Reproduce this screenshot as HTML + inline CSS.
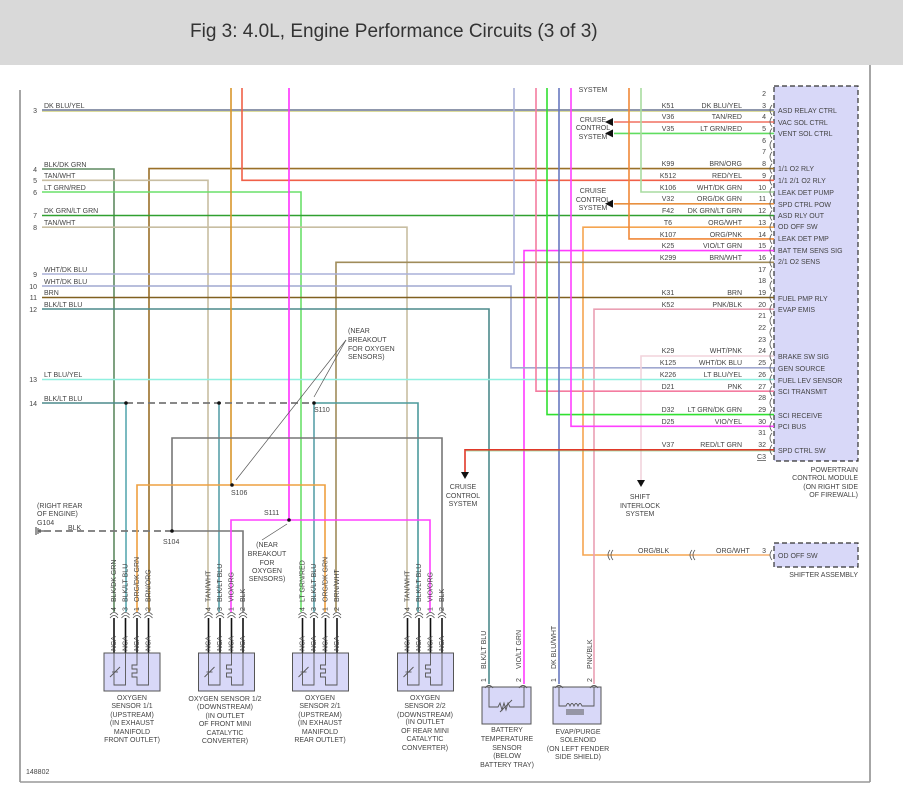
<!DOCTYPE html>
<html><head><meta charset="utf-8"><style>
html,body{margin:0;padding:0;background:#fff;}
svg{display:block;font-family:"Liberation Sans",sans-serif;}
text{font-size:7px;fill:#444;}
</style></head><body>
<svg width="903" height="792" viewBox="0 0 903 792" xmlns="http://www.w3.org/2000/svg">
<rect x="0" y="0" width="903" height="65" fill="#d9d9d9"/>
<text x="190" y="37" style="font-size:19px;fill:#333">Fig 3: 4.0L, Engine Performance Circuits (3 of 3)</text>
<line x1="20" y1="90" x2="20" y2="782" stroke="#888" stroke-width="1.5"/>
<line x1="870" y1="65" x2="870" y2="782" stroke="#888" stroke-width="1.5"/>
<line x1="20" y1="782" x2="870" y2="782" stroke="#999" stroke-width="1.5"/>

<rect x="774" y="86" width="84" height="375" fill="#d8d8f8" stroke="#333" stroke-dasharray="5,3" stroke-width="1.2"/>

<g fill="none" stroke-width="1.6">
<polyline points="42,110 774,110" stroke="#6a7590"/>
<polyline points="42,111.3 774,111.3" stroke="#c8c860" stroke-width="0.6"/>
<polyline points="614,122 774,122" stroke="#f07060"/>
<polyline points="614,133.4 774,133.4" stroke="#60dd60"/>
<polyline points="42,169 114,169 114,612" stroke="#5f8a60"/>
<polyline points="774,168.6 149,168.6 149,612" stroke="#9a7028"/>
<polyline points="42,180.3 208,180.3 208,612" stroke="#c8bea2"/>
<polyline points="242,88 242,180.3 774,180.3" stroke="#f06048"/>
<polyline points="42,192 301,192 301,612" stroke="#6ae06a"/>
<polyline points="641,88 641,192 774,192" stroke="#a8dca0"/>
<polyline points="614,203.8 774,203.8" stroke="#e89040"/>
<polyline points="42,215.5 774,215.5" stroke="#30a030"/>
<polyline points="42,227.2 407,227.2 407,612" stroke="#c8bea2"/>
<polyline points="774,227.2 583,227.2 583,555 690,555" stroke="#f5a550"/>
<polyline points="690,555 770,555" stroke="#f5b070"/>
<polyline points="629,88 629,238.9 774,238.9" stroke="#f08838"/>
<polyline points="774,250.6 524,250.6 524,684" stroke="#ff3cff"/>
<polyline points="774,262.3 336,262.3 336,612" stroke="#a08c5a"/>
<polyline points="42,274 514,274 514,88" stroke="#aab0d8"/>
<polyline points="42,286 511,286 511,367.8 774,367.8" stroke="#a0a8d0"/>
<polyline points="42,297.5 774,297.5" stroke="#806020"/>
<polyline points="42,309 489,309 489,684" stroke="#4c8a8c"/>
<polyline points="774,309.2 594,309.2 594,684" stroke="#eaa0b4"/>
<polyline points="774,356 641,356 641,480" stroke="#f2d4dc"/>
<polyline points="42,379.5 774,379.5" stroke="#90f0e0"/>
<polyline points="536,88 536,391.2 774,391.2" stroke="#f47ca0"/>
<polyline points="547,88 547,414.6 774,414.6" stroke="#30e030"/>
<polyline points="571,88 571,426.3 774,426.3" stroke="#ff40ff"/>
<polyline points="559,88 559,684" stroke="#6878c0"/>
<polyline points="774,449.8 465,449.8 465,472" stroke="#e03828"/>
<polyline points="774,451 466,451" stroke="#60c060" stroke-width="0.6"/>
<polyline points="231,88 231,485" stroke="#d8962c"/>
<polyline points="289,88 289,520" stroke="#ff30ff"/>
<polyline points="42,403 126,403" stroke="#4c8a8c"/>
<polyline points="126,403 314,403" stroke="#777" stroke-dasharray="7,4" stroke-width="1.8"/>
<polyline points="314,403 418,403 418,612" stroke="#4c9a9c"/>
<polyline points="126,403 126,612" stroke="#5aa8b0"/>
<polyline points="219,403 219,612" stroke="#5aa0a8"/>
<polyline points="314,403 314,612" stroke="#5aa0a8"/>
<polyline points="172,531 172,438 442,438 442,612" stroke="#777"/>
<polyline points="172,531 243,531 243,612" stroke="#777"/>
<polyline points="44,531 172,531" stroke="#777" stroke-dasharray="7,4" stroke-width="1.8"/>
<polyline points="137,612 137,485 325,485 325,612" stroke="#eea040"/>
<polyline points="231,612 231,520 430,520 430,612" stroke="#ff40ff"/>
</g>

<g fill="#111">
<circle cx="126" cy="403" r="1.8"/><circle cx="219" cy="403" r="1.8"/><circle cx="314" cy="403" r="1.8"/>
<circle cx="232" cy="485" r="1.8"/><circle cx="289" cy="520" r="1.8"/><circle cx="172" cy="531" r="1.8"/>
</g>
<text x="314" y="412">S110</text>
<text x="231" y="495">S106</text>
<text x="264" y="515">S111</text>
<text x="163" y="544">S104</text>

<g stroke="#555" stroke-width="0.7" fill="none">
<line x1="346" y1="340" x2="236" y2="480"/><line x1="346" y1="340" x2="314" y2="397"/>
<line x1="262" y1="540" x2="287" y2="524"/>
</g>
<g>
<text x="348" y="333">(NEAR</text><text x="348" y="342">BREAKOUT</text><text x="348" y="351">FOR OXYGEN</text><text x="348" y="359">SENSORS)</text>
</g>
<g text-anchor="middle">
<text x="267" y="547">(NEAR</text><text x="267" y="556">BREAKOUT</text><text x="267" y="565">FOR</text><text x="267" y="573">OXYGEN</text><text x="267" y="581">SENSORS)</text>
</g>
<text x="37" y="508">(RIGHT REAR</text><text x="37" y="516">OF ENGINE)</text><text x="37" y="525">G104</text>
<text x="68" y="530">BLK</text>
<g stroke="#333" stroke-width="1"><line x1="38" y1="531" x2="44" y2="531"/><line x1="36" y1="527" x2="36" y2="535"/><line x1="38" y1="528" x2="38" y2="534"/><line x1="40" y1="529" x2="40" y2="533"/></g>
<text x="26" y="774">148802</text>

<g text-anchor="end">
<text x="37" y="113">3</text><text x="37" y="172">4</text><text x="37" y="183">5</text><text x="37" y="195">6</text>
<text x="37" y="218">7</text><text x="37" y="230">8</text><text x="37" y="277">9</text><text x="37" y="289">10</text>
<text x="37" y="300">11</text><text x="37" y="312">12</text><text x="37" y="382">13</text><text x="37" y="406">14</text>
</g>
<g>
<text x="44" y="108">DK BLU/YEL</text><text x="44" y="167">BLK/DK GRN</text><text x="44" y="178">TAN/WHT</text>
<text x="44" y="190">LT GRN/RED</text><text x="44" y="213">DK GRN/LT GRN</text><text x="44" y="225">TAN/WHT</text>
<text x="44" y="272">WHT/DK BLU</text><text x="44" y="284">WHT/DK BLU</text><text x="44" y="295">BRN</text>
<text x="44" y="307">BLK/LT BLU</text><text x="44" y="377">LT BLU/YEL</text><text x="44" y="401">BLK/LT BLU</text>
</g>

<g text-anchor="middle">
<text x="668" y="108">K51</text><text x="668" y="119">V36</text><text x="668" y="131">V35</text>
<text x="668" y="166">K99</text><text x="668" y="178">K512</text><text x="668" y="190">K106</text><text x="668" y="201">V32</text>
<text x="668" y="213">F42</text><text x="668" y="225">T6</text><text x="668" y="237">K107</text><text x="668" y="248">K25</text>
<text x="668" y="260">K299</text><text x="668" y="295">K31</text><text x="668" y="307">K52</text><text x="668" y="353">K29</text>
<text x="668" y="365">K125</text><text x="668" y="377">K226</text><text x="668" y="389">D21</text><text x="668" y="412">D32</text>
<text x="668" y="424">D25</text><text x="668" y="447">V37</text>
</g>
<g text-anchor="end">
<text x="742" y="108">DK BLU/YEL</text><text x="742" y="119">TAN/RED</text><text x="742" y="131">LT GRN/RED</text>
<text x="742" y="166">BRN/ORG</text><text x="742" y="178">RED/YEL</text><text x="742" y="190">WHT/DK GRN</text><text x="742" y="201">ORG/DK GRN</text>
<text x="742" y="213">DK GRN/LT GRN</text><text x="742" y="225">ORG/WHT</text><text x="742" y="237">ORG/PNK</text><text x="742" y="248">VIO/LT GRN</text>
<text x="742" y="260">BRN/WHT</text><text x="742" y="295">BRN</text><text x="742" y="307">PNK/BLK</text><text x="742" y="353">WHT/PNK</text>
<text x="742" y="365">WHT/DK BLU</text><text x="742" y="377">LT BLU/YEL</text><text x="742" y="389">PNK</text><text x="742" y="412">LT GRN/DK GRN</text>
<text x="742" y="424">VIO/YEL</text><text x="742" y="447">RED/LT GRN</text>
<text x="766" y="96">2</text><text x="766" y="108">3</text><text x="766" y="119">4</text><text x="766" y="131">5</text><text x="766" y="143">6</text>
<text x="766" y="154">7</text><text x="766" y="166">8</text><text x="766" y="178">9</text><text x="766" y="190">10</text><text x="766" y="201">11</text>
<text x="766" y="213">12</text><text x="766" y="225">13</text><text x="766" y="237">14</text><text x="766" y="248">15</text><text x="766" y="260">16</text>
<text x="766" y="272">17</text><text x="766" y="283">18</text><text x="766" y="295">19</text><text x="766" y="307">20</text><text x="766" y="318">21</text>
<text x="766" y="330">22</text><text x="766" y="342">23</text><text x="766" y="353">24</text><text x="766" y="365">25</text><text x="766" y="377">26</text>
<text x="766" y="389">27</text><text x="766" y="400">28</text><text x="766" y="412">29</text><text x="766" y="424">30</text><text x="766" y="435">31</text>
<text x="766" y="447">32</text><text x="766" y="459" text-decoration="underline">C3</text>
<text x="766" y="553">3</text>
</g>
<g stroke="#555" stroke-width="0.8" fill="none">
<path d="M772,105 q-4,5 0,10 M772,116.7 q-4,5 0,10 M772,128.4 q-4,5 0,10 M772,140.2 q-4,5 0,10 M772,151.9 q-4,5 0,10 M772,163.6 q-4,5 0,10 M772,175.3 q-4,5 0,10 M772,187 q-4,5 0,10 M772,198.8 q-4,5 0,10 M772,210.5 q-4,5 0,10 M772,222.2 q-4,5 0,10 M772,233.9 q-4,5 0,10 M772,245.6 q-4,5 0,10 M772,257.3 q-4,5 0,10 M772,269 q-4,5 0,10 M772,280.8 q-4,5 0,10 M772,292.5 q-4,5 0,10 M772,304.2 q-4,5 0,10 M772,315.9 q-4,5 0,10 M772,327.6 q-4,5 0,10 M772,339.3 q-4,5 0,10 M772,351 q-4,5 0,10 M772,362.8 q-4,5 0,10 M772,374.5 q-4,5 0,10 M772,386.2 q-4,5 0,10 M772,397.9 q-4,5 0,10 M772,409.6 q-4,5 0,10 M772,421.3 q-4,5 0,10 M772,433 q-4,5 0,10 M772,444.8 q-4,5 0,10 M772,550 q-4,5 0,10"/>
<path d="M610,550 q-4,5 0,10 M613,550 q-4,5 0,10 M692,550 q-4,5 0,10 M695,550 q-4,5 0,10"/>
</g>
<g>
<text x="778" y="113">ASD RELAY CTRL</text><text x="778" y="125">VAC SOL CTRL</text><text x="778" y="136">VENT SOL CTRL</text>
<text x="778" y="171">1/1 O2 RLY</text><text x="778" y="183">1/1 2/1 O2 RLY</text><text x="778" y="195">LEAK DET PUMP</text>
<text x="778" y="207">SPD CTRL POW</text><text x="778" y="218">ASD RLY OUT</text><text x="778" y="229">OD OFF SW</text>
<text x="778" y="241">LEAK DET PMP</text><text x="778" y="253">BAT TEM SENS SIG</text><text x="778" y="264">2/1 O2 SENS</text>
<text x="778" y="301">FUEL PMP RLY</text><text x="778" y="312">EVAP EMIS</text><text x="778" y="359">BRAKE SW SIG</text>
<text x="778" y="371">GEN SOURCE</text><text x="778" y="383">FUEL LEV SENSOR</text><text x="778" y="394">SCI TRANSMIT</text>
<text x="778" y="418">SCI RECEIVE</text><text x="778" y="429">PCI BUS</text><text x="778" y="453">SPD CTRL SW</text>
</g>
<g text-anchor="end">
<text x="858" y="472">POWERTRAIN</text><text x="858" y="480">CONTROL MODULE</text><text x="858" y="489">(ON RIGHT SIDE</text><text x="858" y="497">OF FIREWALL)</text>
<text x="858" y="577">SHIFTER ASSEMBLY</text>
</g>
<rect x="774" y="543" width="84" height="24" fill="#d8d8f8" stroke="#333" stroke-dasharray="5,3" stroke-width="1.2"/>
<text x="778" y="558">OD OFF SW</text>
<text x="638" y="553">ORG/BLK</text><text x="716" y="553">ORG/WHT</text>

<g fill="#111">
<path d="M605,122 l8,-4 v8 z"/><path d="M605,133.4 l8,-4 v8 z"/><path d="M605,203.8 l8,-4 v8 z"/>
<path d="M461,472 h8 l-4,7 z"/><path d="M637,480 h8 l-4,7 z"/>
</g>
<g text-anchor="middle">
<text x="593" y="92">SYSTEM</text>
<text x="593" y="122">CRUISE</text><text x="593" y="130">CONTROL</text><text x="593" y="139">SYSTEM</text>
<text x="593" y="193">CRUISE</text><text x="593" y="202">CONTROL</text><text x="593" y="210">SYSTEM</text>
<text x="463" y="489">CRUISE</text><text x="463" y="498">CONTROL</text><text x="463" y="506">SYSTEM</text>
<text x="640" y="499">SHIFT</text><text x="640" y="508">INTERLOCK</text><text x="640" y="516">SYSTEM</text>
</g>

<defs>
<g id="sens">
<g stroke="#111" stroke-width="1.6"><line x1="10" y1="3" x2="10" y2="38"/><line x1="21.5" y1="3" x2="21.5" y2="38"/><line x1="33" y1="3" x2="33" y2="38"/><line x1="44.5" y1="3" x2="44.5" y2="38"/></g>
<g stroke="#555" stroke-width="0.8" fill="none">
<path d="M6,3 q4,-5 8,0 M6,0 q4,-5 8,0 M17.5,3 q4,-5 8,0 M17.5,0 q4,-5 8,0 M29,3 q4,-5 8,0 M29,0 q4,-5 8,0 M40.5,3 q4,-5 8,0 M40.5,0 q4,-5 8,0"/>
</g>
<rect x="0" y="38" width="56" height="38" fill="#d8d8f8" stroke="#555" stroke-width="1"/>
<g stroke="#555" stroke-width="0.9" fill="none">
<polyline points="10,38 10,70 21.5,70 21.5,38"/>
<line x1="6" y1="62" x2="16" y2="52"/><line x1="8" y1="57" x2="14" y2="57"/>
<polyline points="33,38 33,50 28,50 28,54 33,54 33,58 28,58 28,62 33,62 33,70 44.5,70 44.5,38"/>
</g>
<g font-size="6.5">
<text transform="translate(12,36) rotate(-90)">NCA</text><text transform="translate(23.5,36) rotate(-90)">NCA</text>
<text transform="translate(35,36) rotate(-90)">NCA</text><text transform="translate(46.5,36) rotate(-90)">NCA</text>
<text transform="translate(12,-4) rotate(-90)">4</text><text transform="translate(23.5,-4) rotate(-90)">3</text>
<text transform="translate(35,-4) rotate(-90)">1</text><text transform="translate(46.5,-4) rotate(-90)">2</text>
</g>
</g>
</defs>
<use href="#sens" transform="translate(104,615)"/>
<use href="#sens" transform="translate(198.5,615)"/>
<use href="#sens" transform="translate(292.5,615)"/>
<use href="#sens" transform="translate(397.5,615)"/>
<g font-size="6.5">
<text transform="translate(116,602) rotate(-90)">BLK/DK GRN</text><text transform="translate(127.5,602) rotate(-90)">BLK/LT BLU</text>
<text transform="translate(139,602) rotate(-90)">ORG/DK GRN</text><text transform="translate(150.5,602) rotate(-90)">BRN/ORG</text>
<text transform="translate(210.5,602) rotate(-90)">TAN/WHT</text><text transform="translate(222,602) rotate(-90)">BLK/LT BLU</text>
<text transform="translate(233.5,602) rotate(-90)">VIO/ORG</text><text transform="translate(245,602) rotate(-90)">BLK</text>
<text transform="translate(304.5,602) rotate(-90)">LT GRN/RED</text><text transform="translate(316,602) rotate(-90)">BLK/LT BLU</text>
<text transform="translate(327.5,602) rotate(-90)">ORG/DK GRN</text><text transform="translate(339,602) rotate(-90)">BRN/WHT</text>
<text transform="translate(409.5,602) rotate(-90)">TAN/WHT</text><text transform="translate(421,602) rotate(-90)">BLK/LT BLU</text>
<text transform="translate(432.5,602) rotate(-90)">VIO/ORG</text><text transform="translate(444,602) rotate(-90)">BLK</text>
<text transform="translate(486,669) rotate(-90)">BLK/LT BLU</text><text transform="translate(521,669) rotate(-90)">VIO/LT GRN</text>
<text transform="translate(556,669) rotate(-90)">DK BLU/WHT</text><text transform="translate(592,669) rotate(-90)">PNK/BLK</text>
<text transform="translate(486,682) rotate(-90)">1</text><text transform="translate(521,682) rotate(-90)">2</text>
<text transform="translate(556,682) rotate(-90)">1</text><text transform="translate(592,682) rotate(-90)">2</text>
</g>
<g text-anchor="middle">
<text x="132" y="700">OXYGEN</text><text x="132" y="708">SENSOR 1/1</text><text x="132" y="717">(UPSTREAM)</text><text x="132" y="725">(IN EXHAUST</text><text x="132" y="734">MANIFOLD</text><text x="132" y="742">FRONT OUTLET)</text>
<text x="225" y="701">OXYGEN SENSOR 1/2</text><text x="225" y="709">(DOWNSTREAM)</text><text x="225" y="718">(IN OUTLET</text><text x="225" y="726">OF FRONT MINI</text><text x="225" y="735">CATALYTIC</text><text x="225" y="743">CONVERTER)</text>
<text x="320" y="700">OXYGEN</text><text x="320" y="708">SENSOR 2/1</text><text x="320" y="717">(UPSTREAM)</text><text x="320" y="725">(IN EXHAUST</text><text x="320" y="734">MANIFOLD</text><text x="320" y="742">REAR OUTLET)</text>
<text x="425" y="700">OXYGEN</text><text x="425" y="708">SENSOR 2/2</text><text x="425" y="717">(DOWNSTREAM)</text><text x="425" y="724">(IN OUTLET</text><text x="425" y="733">OF REAR MINI</text><text x="425" y="741">CATALYTIC</text><text x="425" y="750">CONVERTER)</text>
<text x="507" y="732">BATTERY</text><text x="507" y="741">TEMPERATURE</text><text x="507" y="750">SENSOR</text><text x="507" y="758">(BELOW</text><text x="507" y="767">BATTERY TRAY)</text>
<text x="578" y="734">EVAP/PURGE</text><text x="578" y="742">SOLENOID</text><text x="578" y="751">(ON LEFT FENDER</text><text x="578" y="759">SIDE SHIELD)</text>
</g>
<rect x="482" y="687" width="49" height="37" fill="#d8d8f8" stroke="#555"/>
<rect x="553" y="687" width="48" height="37" fill="#d8d8f8" stroke="#555"/>
<g stroke="#555" stroke-width="0.9" fill="none">
<path d="M485,688 q4,-5 8,0 M519,688 q4,-5 8,0 M555,688 q4,-5 8,0 M590,688 q4,-5 8,0"/>
<polyline points="489,687 489,707 498,707 500,703 502,710 504,703 506,710 508,703 510,707 524,707 524,687"/>
<line x1="500" y1="712" x2="512" y2="700"/>
<path d="M559,687 V706 H566 q2,-5 4,0 q2,-5 4,0 q2,-5 4,0 q2,-5 4,0 H594 V687"/>
<line x1="566" y1="710" x2="584" y2="710"/><line x1="566" y1="712" x2="584" y2="712"/><line x1="566" y1="714" x2="584" y2="714"/>
</g>
</svg>
</body></html>
